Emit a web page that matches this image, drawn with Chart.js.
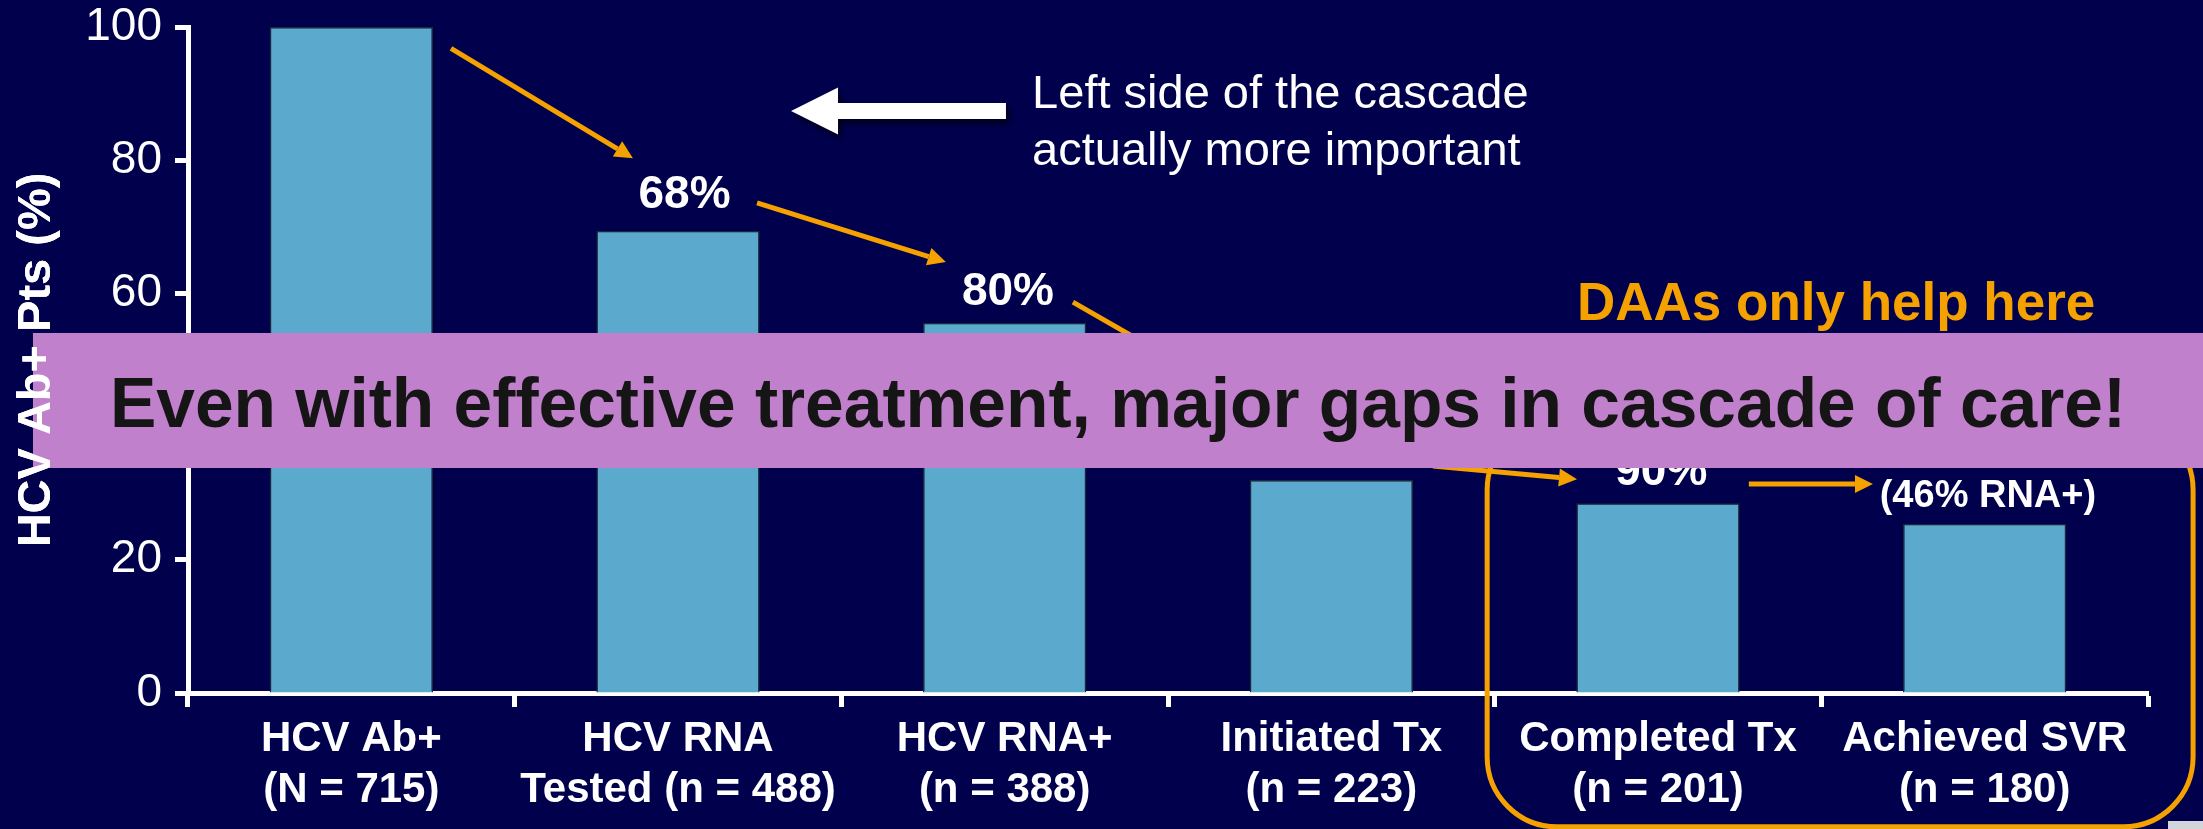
<!DOCTYPE html>
<html>
<head>
<meta charset="utf-8">
<script src="https://cdn.jsdelivr.net/npm/chart.js@4.4.1/dist/chart.umd.min.js"></script>
<style>
  html, body { margin: 0; padding: 0; background: #00004d; overflow: hidden; }
  #wrap { position: relative; width: 2203px; height: 829px; }
</style>
</head>
<body>
<div id="wrap"><canvas id="cascade"></canvas></div>
<script>
const categories = [
    ["HCV Ab+", "(N = 715)"],
    ["HCV RNA", "Tested (n = 488)"],
    ["HCV RNA+", "(n = 388)"],
    ["Initiated Tx", "(n = 223)"],
    ["Completed Tx", "(n = 201)"],
    ["Achieved SVR", "(n = 180)"],
];
const percentOfAbPos = [100, 69.4, 55.6, 32, 28.5, 25.4];
const yTicks = [0, 20, 40, 60, 80, 100];

// step-to-step percentages, as [category index, y value, text]
const stepLabels = [
    [1.02, 72.8, "68%"],
    [2.01, 58.3, "80%"],
    [4.01, 31.2, "90%"],
];
const svrNote = [5.01, 27.9, "(46% RNA+)"];
// arrows between the steps: [from index, from value, to index, to value]
const stepArrows = [
    [0.305, 96.8, 0.862, 80.3],
    [1.242, 73.6, 1.820, 64.7],
    [2.209, 58.7, 2.720, 44.3],
    [3.311, 34.1, 3.752, 32.1],
    [4.278, 31.4, 4.658, 31.4],
];
const leftNote = ["Left side of the cascade", "actually more important"];
const daaNote = "DAAs only help here";
const banner = "Even with effective treatment, major gaps in cascade of care!";

const FONT = "'Liberation Sans', Arial, sans-serif";
const ORANGE = "#f5a100";

Chart.defaults.font.family = FONT;
Chart.defaults.color = "#ffffff";

function arrow(ctx, x0, y0, x1, y1) {
    const a = Math.atan2(y1 - y0, x1 - x0), L = 18, W = 9;
    const bx = x1 - L * Math.cos(a), by = y1 - L * Math.sin(a);
    ctx.beginPath();
    ctx.moveTo(x0, y0);
    ctx.lineTo(bx, by);
    ctx.stroke();
    ctx.beginPath();
    ctx.moveTo(x1, y1);
    ctx.lineTo(bx + W * Math.sin(a), by - W * Math.cos(a));
    ctx.lineTo(bx - W * Math.sin(a), by + W * Math.cos(a));
    ctx.closePath();
    ctx.fill();
}

const overlay = {
    id: "overlay",
    afterDraw(chart) {
        const { ctx, scales: { x, y } } = chart;
        const px = (i) => x.getPixelForValue(i);
        const py = (v) => y.getPixelForValue(v);
        ctx.save();

        // rounded box around the last two steps
        ctx.strokeStyle = ORANGE;
        ctx.lineWidth = 5;
        ctx.beginPath();
        ctx.roundRect(px(3.477), py(41), px(5.638) - px(3.477), py(-20.1) - py(41), 70);
        ctx.stroke();

        ctx.fillStyle = ORANGE;
        stepArrows.forEach(([i0, v0, i1, v1]) => arrow(ctx, px(i0), py(v0), px(i1), py(v1)));

        ctx.fillStyle = "#ffffff";
        ctx.textAlign = "center";
        ctx.textBaseline = "alphabetic";
        ctx.font = "bold 46px " + FONT;
        stepLabels.forEach(([i, v, t]) => ctx.fillText(t, px(i), py(v)));
        ctx.font = "bold 38px " + FONT;
        ctx.fillText(svrNote[2], px(svrNote[0]), py(svrNote[1]));

        // big white arrow pointing left
        ctx.save();
        ctx.shadowColor = "rgba(0,0,0,0.7)";
        ctx.shadowBlur = 6;
        ctx.shadowOffsetX = 3;
        ctx.shadowOffsetY = 4;
        const tipX = px(1.346), midY = py(87.4), endX = px(2.004);
        ctx.beginPath();
        ctx.moveTo(tipX, midY);
        ctx.lineTo(tipX + 47, midY - 23.5);
        ctx.lineTo(tipX + 47, midY - 8);
        ctx.lineTo(endX, midY - 8);
        ctx.lineTo(endX, midY + 8);
        ctx.lineTo(tipX + 47, midY + 8);
        ctx.lineTo(tipX + 47, midY + 23.5);
        ctx.closePath();
        ctx.fill();
        ctx.restore();

        ctx.textAlign = "left";
        ctx.font = "47px " + FONT;
        ctx.fillText(leftNote[0], px(2.084), py(87.8));
        ctx.fillText(leftNote[1], px(2.084), py(79.3));

        ctx.fillStyle = ORANGE;
        ctx.font = "bold 53px " + FONT;
        ctx.fillText(daaNote, px(3.752), py(56));

        // purple banner across the slide
        ctx.fillStyle = "#c080cc";
        ctx.fillRect(33, 333, chart.width - 33, 135);
        ctx.fillStyle = "#151515";
        ctx.textAlign = "center";
        ctx.font = "bold 69.5px " + FONT;
        ctx.fillText(banner, (33 + chart.width) / 2, 427);

        ctx.fillStyle = "#d2d6db";
        ctx.fillRect(chart.width - 35, chart.height - 8, 35, 8);
        ctx.restore();

        // axis title sits on top of the banner
        y.drawTitle();
    },
};

new Chart(document.getElementById("cascade"), {
    type: "bar",
    data: {
        labels: categories,
        datasets: [
            {
                data: percentOfAbPos,
                backgroundColor: "#5baace",
                borderColor: "#1d2836",
                borderWidth: 1.5,
                categoryPercentage: 1,
                barPercentage: 0.5,
            },
        ],
    },
    options: {
        responsive: true,
        maintainAspectRatio: false,
        animation: false,
        layout: { padding: { top: 27, right: 55, bottom: 0, left: 0 } },
        plugins: { legend: { display: false }, tooltip: { enabled: false } },
        scales: {
            x: {
                afterFit: (s) => { s.height = 136; },
                border: { color: "#ffffff", width: 5 },
                grid: {
                    offset: true,
                    drawOnChartArea: false,
                    color: "#ffffff",
                    tickColor: "#ffffff",
                    tickLength: 14,
                    tickWidth: 5,
                },
                ticks: {
                    autoSkip: false,
                    maxRotation: 0,
                    padding: 7,
                    color: "#ffffff",
                    font: { size: 42, weight: "bold", lineHeight: 1.214 },
                },
            },
            y: {
                min: 0,
                max: 100,
                afterFit: (s) => {
                    s.width = 188;
                    s.paddingTop = 0;
                    s.paddingBottom = 0;
                },
                afterBuildTicks: (s) => { s.ticks = yTicks.map((v) => ({ value: v })); },
                border: { color: "#ffffff", width: 5 },
                grid: {
                    drawOnChartArea: false,
                    color: "#ffffff",
                    tickColor: "#ffffff",
                    tickLength: 13,
                    tickWidth: 5,
                },
                ticks: {
                    padding: 13,
                    color: "#ffffff",
                    font: { size: 46, lineHeight: 1 },
                },
                title: {
                    display: true,
                    text: "HCV Ab+ Pts (%)",
                    color: "#ffffff",
                    padding: { top: 9, bottom: 0 },
                    font: { size: 47, weight: "bold", lineHeight: 1.2 },
                },
            },
        },
    },
    plugins: [overlay],
});
</script>
</body>
</html>
